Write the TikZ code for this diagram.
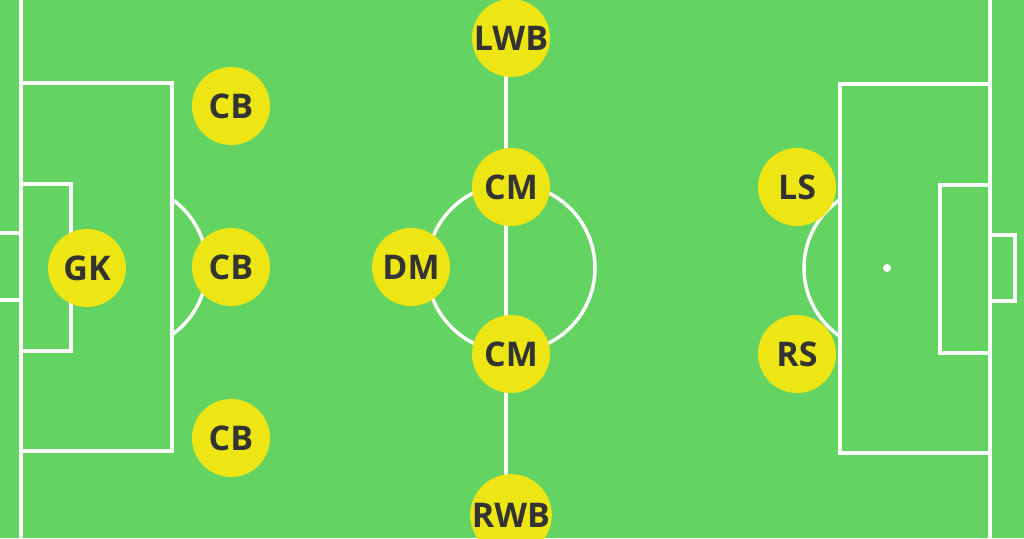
\documentclass[tikz,border=0pt]{standalone}
\usepackage{fontspec}
\setmainfont{Open Sans}
\definecolor{pitch}{RGB}{99,211,97}
\definecolor{player}{RGB}{237,229,20}
\definecolor{txt}{RGB}{51,51,51}
\begin{document}
\begin{tikzpicture}[x=1pt,y=-1pt,
  line/.style={draw=white,line width=3.5pt},
  pl/.style={circle,fill=player,minimum size=78pt,inner sep=0pt,text=txt,font=\bfseries\fontsize{34}{34}\selectfont}]
\useasboundingbox (0,0) rectangle (1024,538);
\fill[pitch] (0,0) rectangle (1024,538);
% left side
\draw[line] (21,0) -- (21,538);
\draw[line] (21,83) -- (172,83) -- (172,451) -- (21,451);
\draw[line] (21,184) -- (71,184) -- (71,351) -- (21,351);
\draw[line] (0,233) -- (21,233);
\draw[line] (0,300) -- (21,300);
\begin{scope}
\clip (172,0) rectangle (400,538);
\draw[line] (124,267) circle (83);
\end{scope}
% centre
\draw[line] (506,0) -- (506,538);
\draw[line] (511,268) circle (84);
% right side
\draw[line] (990,0) -- (990,538);
\draw[line] (990,84) -- (840,84) -- (840,453) -- (990,453);
\draw[line] (990,185) -- (940,185) -- (940,353) -- (990,353);
\draw[line] (990,235) -- (1015,235) -- (1015,301) -- (990,301);
\begin{scope}
\clip (600,0) rectangle (840,538);
\draw[line] (887,268) circle (83);
\end{scope}
\fill[white] (887,268) circle (4);
% players
\node[pl] (gk) at (87,268) {GK};
\node[pl] (cb1) at (231,106) {CB};
\node[pl] (cb2) at (231,267) {CB};
\node[pl] (cb3) at (231,438) {CB};
\node[pl] (lwb) at (511,38) {LWB};
\node[pl] (cm1) at (511,187) {CM};
\node[pl] (dm) at (411,267) {DM};
\node[pl] (cm2) at (511,354) {CM};
\node[pl] (rwb) at (511,515) {RWB};
\node[pl] (ls) at (797,187) {LS};
\node[pl] (rs) at (797,354) {RS};
\end{tikzpicture}
\end{document}
